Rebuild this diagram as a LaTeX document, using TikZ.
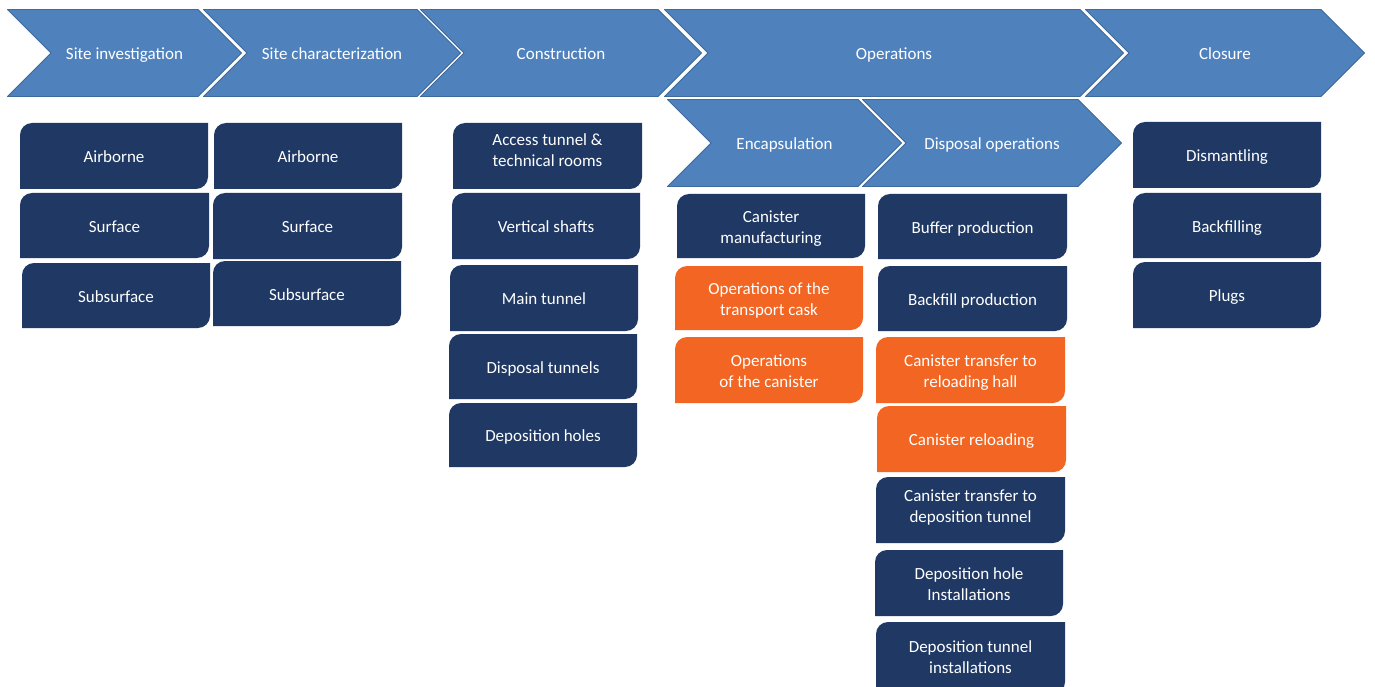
\documentclass[tikz,border=0pt]{standalone}
\usepackage{fontspec}
\setmainfont{Carlito}
\usetikzlibrary{calc}
\definecolor{chevblue}{HTML}{4F81BD}
\definecolor{chevedge}{HTML}{3E6A9C}
\definecolor{navy}{HTML}{1F3864}
\definecolor{orng}{HTML}{F26522}
\newcommand\boxtext[2][-2.5pt]{\raisebox{#1}[\height][\depth]{\begin{tabular}{@{}c@{}}#2\end{tabular}}}
\tikzset{
  lbl/.style={text=white, align=center, font=\fontsize{17}{21}\selectfont},
  chev/.style={shape=rectangle, inner sep=0pt, lbl, minimum height=88pt,
    path picture={
      \fill[chevblue, draw=chevedge, line width=0.8pt]
        ([xshift=0.5pt,yshift=-0.5pt]path picture bounding box.north west)
        -- ([xshift=-44pt,yshift=-0.5pt]path picture bounding box.north east)
        -- ([xshift=-0.5pt]path picture bounding box.east)
        -- ([xshift=-44pt,yshift=0.5pt]path picture bounding box.south east)
        -- ([xshift=0.5pt,yshift=0.5pt]path picture bounding box.south west)
        -- ([xshift=44pt]path picture bounding box.west) -- cycle;
    }},
  box/.style={shape=rectangle, inner sep=0pt, lbl, minimum width=188pt, minimum height=66pt,
    path picture={
      \coordinate (ppnw) at (path picture bounding box.north west);
      \coordinate (ppse) at (path picture bounding box.south east);
      \fill[#1] ([yshift=-12pt]ppnw) .. controls ([yshift=-5.4pt]ppnw) and ([xshift=5.4pt]ppnw) .. ([xshift=12pt]ppnw)
        -- (ppnw -| ppse) -- ([yshift=12pt]ppse)
        .. controls ([yshift=5.4pt]ppse) and ([xshift=-5.4pt]ppse) .. ([xshift=-12pt]ppse)
        -- (ppse -| ppnw) -- cycle;
    }},
  box/.default=navy,
}
\begin{document}
\begin{tikzpicture}[x=1pt,y=-1pt]
\clip (0,0) rectangle (1375,687);
\fill[white] (0,0) rectangle (1375,687);
% phase chevrons
\node[chev, minimum width=235pt] (c1) at (124.5,53) {\boxtext[-2pt]{Site investigation}};
\node[chev, minimum width=258pt] (c2) at (332,53) {\boxtext[-2pt]{Site characterization}};
\node[chev, minimum width=282pt] (c3) at (561,53) {\boxtext[-2pt]{Construction}};
\node[chev, minimum width=460pt] (c4) at (894,53) {\boxtext[-2pt]{Operations}};
\node[chev, minimum width=280pt] (c5) at (1225,53) {\boxtext[-2pt]{Closure}};
\node[chev, minimum width=235pt] (e1) at (784.5,143) {\boxtext[-2pt]{Encapsulation}};
\node[chev, minimum width=260pt] (e2) at (992,143) {\boxtext[-2pt]{Disposal operations}};
% site investigation
\node[box] (a1) at (114,156) {\boxtext{Airborne}};
\node[box, minimum width=189pt, minimum height=65pt] (a2) at (114.5,225.5) {\boxtext{Surface}};
\node[box, minimum height=65pt] (a3) at (116,295.5) {\boxtext{Subsurface}};
% site characterization
\node[box] (b1) at (308,156) {\boxtext{Airborne}};
\node[box, minimum width=189pt] (b2) at (307.5,226) {\boxtext{Surface}};
\node[box, minimum height=65pt] (b3) at (307,293.5) {\boxtext{Subsurface}};
% construction
\node[box, minimum width=189pt] (k1) at (547.5,156) {\boxtext[4pt]{Access tunnel \&\\technical rooms}};
\node[box] (k2) at (546,226) {\boxtext{Vertical shafts}};
\node[box] (k3) at (544,298) {\boxtext{Main tunnel}};
\node[box, minimum height=65pt] (k4) at (543,366.5) {\boxtext{Disposal tunnels}};
\node[box, minimum height=64pt] (k5) at (543,435) {\boxtext{Deposition holes}};
% encapsulation
\node[box, minimum height=64pt] (p1) at (771,226) {\boxtext{Canister\\manufacturing}};
\node[box=orng, minimum height=64pt] (p2) at (769,298) {\boxtext{Operations of the\\transport cask}};
\node[box=orng] (p3) at (769,370) {\boxtext{Operations\\of the canister}};
% disposal operations
\node[box, minimum width=189pt, minimum height=65pt] (q1) at (972.5,226.5) {\boxtext{Buffer production}};
\node[box, minimum width=189pt, minimum height=65pt] (q2) at (972.5,298.5) {\boxtext{Backfill production}};
\node[box=orng, minimum width=189pt] (q3) at (970.5,370) {\boxtext{Canister transfer to\\reloading hall}};
\node[box=orng, minimum width=189pt] (q4) at (971.5,439) {\boxtext{Canister reloading}};
\node[box, minimum width=189pt] (q5) at (970.5,510) {\boxtext[2pt]{Canister transfer to\\deposition tunnel}};
\node[box] (q6) at (969,583) {\boxtext{Deposition hole\\Installations}};
\node[box, minimum width=189pt, minimum height=72pt] (q7) at (970.5,658) {\boxtext[-0.5pt]{Deposition tunnel\\installations}};
% closure
\node[box] (r1) at (1227,155) {\boxtext{Dismantling}};
\node[box, minimum height=65pt] (r2) at (1227,225.5) {\boxtext{Backfilling}};
\node[box] (r3) at (1227,295) {\boxtext{Plugs}};
\end{tikzpicture}
\end{document}
